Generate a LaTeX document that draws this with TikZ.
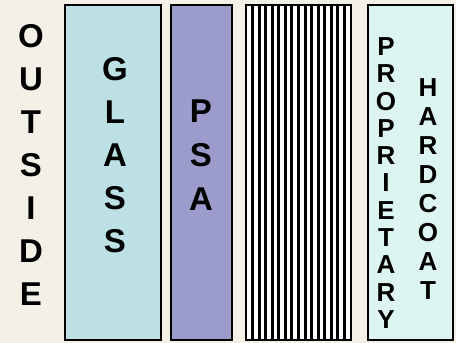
\documentclass[tikz,border=0pt]{standalone}
\usepackage{fontspec}
\setmainfont{Liberation Sans}
\definecolor{bgpaper}{RGB}{243,241,231}
\definecolor{glassfill}{RGB}{188,224,228}
\definecolor{psafill}{RGB}{156,156,204}
\definecolor{hardfill}{RGB}{221,245,240}
\tikzset{
  layer/.style={draw=black, line width=2pt},
  stackword/.style={inner sep=0pt, align=center, text=black},
}
\begin{document}
\begin{tikzpicture}[x=1pt,y=-1pt]
\fill[bgpaper] (0,0) rectangle (456,343);
\useasboundingbox (0,0) rectangle (456,343);
% layers
\draw[layer, fill=glassfill] (65,5) rectangle (161,340);
\draw[layer, fill=psafill] (171,5) rectangle (232,340);
\draw[layer, fill=white] (246,5) rectangle (351,340);
\foreach \k in {1,...,15}{
  \draw[line width=3.1pt] ({246+\k*6.5625},5) -- ({246+\k*6.5625},340);
}
\draw[layer, fill=hardfill] (368,5) rectangle (453,340);
% texts
\node[stackword, font=\bfseries\fontsize{33}{43}\selectfont] (outside) at (31,165) {O\\U\\T\\S\\I\\D\\E};
\node[stackword, font=\bfseries\fontsize{33}{43}\selectfont] (glass) at (115,155) {G\\L\\A\\S\\S};
\node[stackword, font=\bfseries\fontsize{33}{44}\selectfont] (psa) at (201,155) {P\\S\\A};
\node[stackword, font=\bfseries\fontsize{26}{27.3}\selectfont] (prop) at (386,183) {P\\R\\O\\P\\R\\I\\E\\T\\A\\R\\Y};
\node[stackword, font=\bfseries\fontsize{26}{29.1}\selectfont] (hard) at (428,189) {H\\A\\R\\D\\C\\O\\A\\T};
\end{tikzpicture}
\end{document}
